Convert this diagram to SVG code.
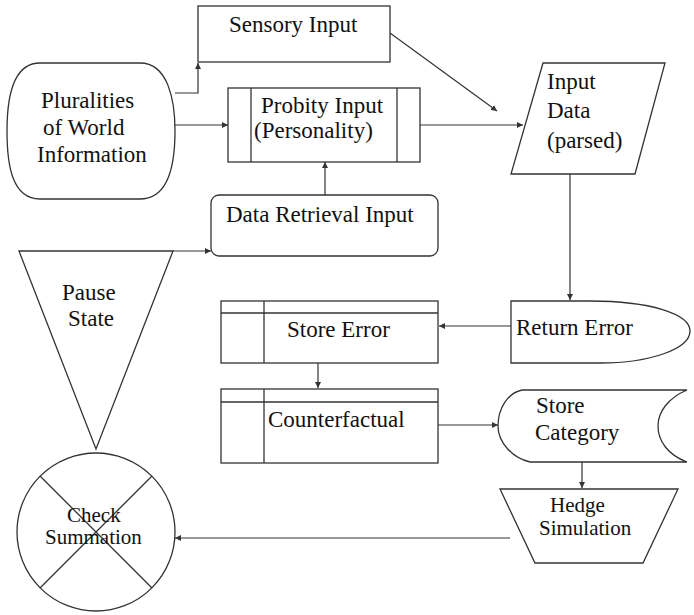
<svg xmlns="http://www.w3.org/2000/svg" width="694" height="615" viewBox="0 0 694 615">
<style>
.s{fill:#fff;stroke:#333;stroke-width:1.3}
.l{fill:none;stroke:#333;stroke-width:1.3}
.c{fill:none;stroke:#333;stroke-width:1.2}
.t{font-family:"Liberation Serif","Times New Roman",serif;font-size:23px;fill:#111}
.sm{font-size:21px}
</style>
<defs>
<marker id="a" markerWidth="6" markerHeight="6" refX="6" refY="3" orient="auto" markerUnits="userSpaceOnUse">
<path d="M0,0 L6,3 L0,6 z" fill="#333"/>
</marker>
</defs>
<rect width="694" height="615" fill="#fff"/>
<g id="connectors">
<path class="c" d="M175,93 L198,93 L198,63" marker-end="url(#a)"/>
<path class="c" d="M175,125 L228,125" marker-end="url(#a)"/>
<path class="c" d="M390,33 L497,111" marker-end="url(#a)"/>
<path class="c" d="M420,125 L523,125" marker-end="url(#a)"/>
<path class="c" d="M325,195 L325,162" marker-end="url(#a)"/>
<path class="c" d="M173,251 L211,251" marker-end="url(#a)"/>
<path class="c" d="M570,174 L570,300" marker-end="url(#a)"/>
<path class="c" d="M511,326 L439,326" marker-end="url(#a)"/>
<path class="c" d="M318,363 L318,388" marker-end="url(#a)"/>
<path class="c" d="M438,425 L498,425" marker-end="url(#a)"/>
<path class="c" d="M582,462 L582,488" marker-end="url(#a)"/>
<path class="c" d="M510,538 L175,538" marker-end="url(#a)"/>
</g>
<g id="sensory">
<rect class="s" x="198" y="6" width="192" height="56"/>
<text class="t" x="229" y="32" font-family="Liberation Serif, serif">Sensory Input</text>
</g>
<g id="pluralities">
<path class="s" d="M40,63 L140,63 C168,63 175,100 175,131 C175,165 168,199 140,199 L40,199 C12,199 7,165 7,131 C7,100 12,63 40,63 Z"/>
<text class="t" x="41" y="108" font-family="Liberation Serif, serif">Pluralities</text>
<text class="t" x="43" y="135" font-family="Liberation Serif, serif">of World</text>
<text class="t" x="37" y="162" font-family="Liberation Serif, serif">Information</text>
</g>
<g id="probity">
<rect class="s" x="228" y="88" width="192" height="74"/>
<line class="l" x1="251" y1="88" x2="251" y2="162"/>
<line class="l" x1="397" y1="88" x2="397" y2="162"/>
<text class="t" x="261" y="113" font-family="Liberation Serif, serif">Probity Input</text>
<text class="t" x="254" y="138" font-family="Liberation Serif, serif">(Personality)</text>
</g>
<g id="inputdata">
<path class="s" d="M543,63 L665,63 L635,174 L511,174 Z"/>
<text class="t" x="547" y="89" font-family="Liberation Serif, serif">Input</text>
<text class="t" x="547" y="118" font-family="Liberation Serif, serif">Data</text>
<text class="t" x="547" y="148" font-family="Liberation Serif, serif">(parsed)</text>
</g>
<g id="retrieval">
<rect class="s" x="211" y="195" width="227" height="61" rx="8"/>
<text class="t" x="226" y="222" font-family="Liberation Serif, serif">Data Retrieval Input</text>
</g>
<g id="pause">
<path class="s" d="M19,251 L173,251 L96,449 Z"/>
<text class="t" x="62" y="300" font-family="Liberation Serif, serif">Pause</text>
<text class="t" x="68" y="326" font-family="Liberation Serif, serif">State</text>
</g>
<g id="check">
<circle class="s" cx="96" cy="532" r="79"/>
<line class="l" x1="40" y1="476" x2="152" y2="588"/>
<line class="l" x1="152" y1="476" x2="40" y2="588"/>
<text class="t sm" x="67" y="522" font-family="Liberation Serif, serif">Check</text>
<text class="t sm" x="45" y="544" font-family="Liberation Serif, serif">Summation</text>
</g>
<g id="returnerror">
<path class="s" d="M511,301 L590,301 C650,301 690,314 690,331 C690,349 650,363 600,363 L511,363 Z"/>
<text class="t" x="516" y="335" font-family="Liberation Serif, serif">Return Error</text>
</g>
<g id="storeerror">
<rect class="s" x="221" y="301" width="217" height="62"/>
<line class="l" x1="221" y1="313" x2="438" y2="313"/>
<line class="l" x1="264" y1="301" x2="264" y2="363"/>
<text class="t" x="287" y="337" font-family="Liberation Serif, serif">Store Error</text>
</g>
<g id="counterfactual">
<rect class="s" x="221" y="389" width="217" height="74"/>
<line class="l" x1="221" y1="402" x2="438" y2="402"/>
<line class="l" x1="264" y1="389" x2="264" y2="463"/>
<text class="t" x="268" y="427" font-family="Liberation Serif, serif">Counterfactual</text>
</g>
<g id="storecategory">
<path class="s" d="M522,390 L687,390 C668,398 658,412 658,426 C658,441 668,455 687,462 L530,462 C512,458 498,442 498,426 C498,408 508,393 522,390 Z"/>
<text class="t" x="536" y="413" font-family="Liberation Serif, serif">Store</text>
<text class="t" x="535" y="440" font-family="Liberation Serif, serif">Category</text>
</g>
<g id="hedge">
<path class="s" d="M500,489 L678,489 L643,563 L535,563 Z"/>
<text class="t sm" x="550" y="512" font-family="Liberation Serif, serif">Hedge</text>
<text class="t sm" x="539" y="535" font-family="Liberation Serif, serif">Simulation</text>
</g>
</svg>
